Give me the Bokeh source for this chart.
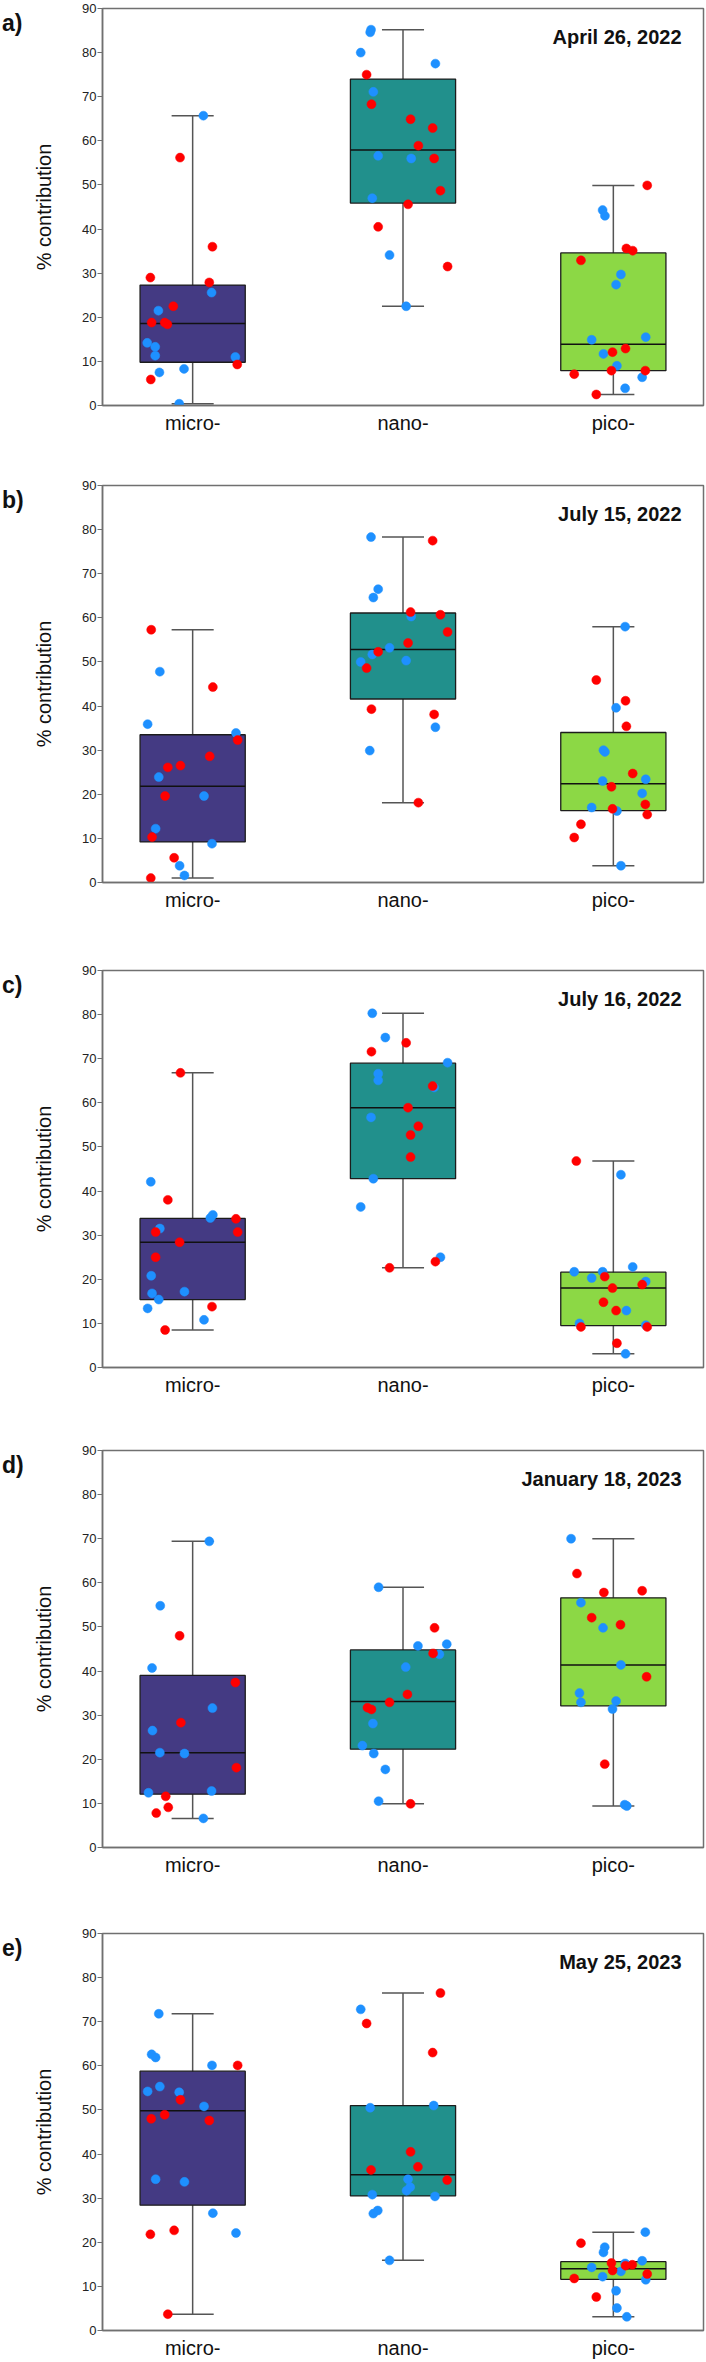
from bokeh.plotting import figure
from bokeh.models import Range1d, FixedTicker, Label, Div
from bokeh.layouts import column, row
from bokeh.embed import file_html
from bokeh.resources import INLINE

# ---------------------------------------------------------------------------
# Data
# ---------------------------------------------------------------------------
CATEGORIES = ["micro-", "nano-", "pico-"]
CAT_X = [1, 2, 3]
PANEL_TAGS = ["a)", "b)", "c)", "d)", "e)"]
DATES = ["April 26, 2022", "July 15, 2022", "July 16, 2022",
         "January 18, 2023", "May 25, 2023"]
Y_TICKS = [0, 10, 20, 30, 40, 50, 60, 70, 80, 90]

# Box quartiles per sampling date, ordered micro-, nano-, pico-
Q1_A = [9.8, 45.9, 7.9]
MED_A = [18.6, 57.9, 13.9]
Q3_A = [27.3, 74.0, 34.6]

Q1_B = [9.2, 41.6, 16.3]
MED_B = [21.8, 52.8, 22.4]
Q3_B = [33.5, 61.1, 34.0]

Q1_C = [15.4, 42.8, 9.5]
MED_C = [28.4, 58.9, 18.0]
Q3_C = [33.8, 69.0, 21.6]

Q1_D = [12.1, 22.3, 32.1]
MED_D = [21.5, 33.1, 41.4]
Q3_D = [39.0, 44.8, 56.6]

Q1_E = [28.4, 30.5, 11.6]
MED_E = [49.8, 35.3, 14.0]
Q3_E = [58.8, 51.0, 15.6]

# Individual samples (% contribution) and their horizontal jitter
# --- April 26, 2022
A_MICRO_RED = [56.2, 36.0, 29.0, 27.9, 22.5, 18.8, 18.8, 18.4, 9.3, 5.9]
A_MICRO_RED_JIT = [-0.060, 0.094, -0.201, 0.079, -0.092, -0.195, -0.133, -0.120, 0.212, -0.199]
A_MICRO_BLUE = [65.7, 25.6, 21.5, 14.2, 13.3, 11.3, 11.0, 8.3, 7.5, 0.4]
A_MICRO_BLUE_JIT = [0.051, 0.090, -0.163, -0.216, -0.178, -0.178, 0.203, -0.041, -0.158, -0.064]
A_NANO_RED = [75.0, 68.3, 64.9, 62.9, 58.9, 56.0, 48.7, 45.6, 40.5, 31.5]
A_NANO_RED_JIT = [-0.173, -0.150, 0.036, 0.141, 0.073, 0.148, 0.178, 0.024, -0.118, 0.212]
A_NANO_BLUE = [85.2, 84.6, 80.0, 77.5, 71.1, 56.6, 56.0, 47.0, 34.1, 22.5]
A_NANO_BLUE_JIT = [-0.152, -0.156, -0.201, 0.154, -0.141, -0.118, 0.039, -0.146, -0.064, 0.015]
A_PICO_RED = [49.9, 35.6, 35.1, 32.9, 12.9, 12.1, 7.9, 7.9, 7.1, 2.5]
A_PICO_RED_JIT = [0.161, 0.062, 0.092, -0.154, 0.058, -0.004, -0.009, 0.152, -0.186, -0.081]
A_PICO_BLUE = [44.3, 43.0, 29.7, 27.4, 15.5, 14.9, 11.7, 9.0, 6.4, 3.9]
A_PICO_BLUE_JIT = [-0.051, -0.040, 0.036, 0.013, 0.154, -0.103, -0.047, 0.017, 0.137, 0.056]

# --- July 15, 2022
B_MICRO_RED = [57.3, 44.3, 32.3, 28.6, 26.5, 26.1, 19.6, 10.3, 5.6, 1.0]
B_MICRO_RED_JIT = [-0.197, 0.096, 0.214, 0.081, -0.058, -0.118, -0.131, -0.193, -0.088, -0.199]
B_MICRO_BLUE = [47.8, 35.9, 33.9, 23.9, 19.6, 12.2, 8.8, 3.8, 1.6]
B_MICRO_BLUE_JIT = [-0.156, -0.214, 0.206, -0.161, 0.054, -0.176, 0.092, -0.062, -0.039]
B_NANO_RED = [77.5, 61.3, 60.7, 56.8, 54.3, 52.3, 48.6, 39.3, 38.1, 18.1]
B_NANO_RED_JIT = [0.141, 0.036, 0.178, 0.212, 0.024, -0.118, -0.173, -0.150, 0.148, 0.073]
B_NANO_BLUE = [78.3, 66.5, 64.6, 60.3, 53.2, 51.7, 50.0, 50.3, 35.2, 29.9]
B_NANO_BLUE_JIT = [-0.152, -0.118, -0.141, 0.039, -0.064, -0.146, -0.201, 0.015, 0.154, -0.158]
B_PICO_RED = [45.9, 41.2, 35.4, 24.7, 21.7, 17.7, 16.7, 15.4, 13.2, 10.2]
B_PICO_RED_JIT = [-0.081, 0.058, 0.062, 0.092, -0.009, 0.152, -0.004, 0.161, -0.154, -0.186]
B_PICO_BLUE = [58.0, 39.6, 30.0, 29.6, 23.4, 23.0, 20.2, 17.0, 16.2, 3.8]
B_PICO_BLUE_JIT = [0.056, 0.013, -0.047, -0.040, 0.154, -0.051, 0.137, -0.103, 0.017, 0.036]

# --- July 16, 2022
C_MICRO_RED = [66.8, 38.0, 33.7, 30.7, 30.7, 28.4, 25.0, 13.8, 8.5]
C_MICRO_RED_JIT = [-0.058, -0.118, 0.206, 0.214, -0.176, -0.062, -0.176, 0.092, -0.131]
C_MICRO_BLUE = [42.1, 34.6, 33.9, 31.5, 20.8, 16.8, 17.2, 15.4, 13.4, 10.8]
C_MICRO_BLUE_JIT = [-0.199, 0.096, 0.084, -0.156, -0.197, -0.193, -0.039, -0.161, -0.214, 0.054]
C_NANO_RED = [73.6, 71.6, 63.8, 58.9, 54.7, 52.7, 47.7, 24.0, 22.6]
C_NANO_RED_JIT = [0.015, -0.150, 0.141, 0.024, 0.073, 0.036, 0.036, 0.154, -0.064]
C_NANO_BLUE = [80.3, 74.8, 69.1, 66.6, 65.1, 63.5, 56.7, 42.8, 36.4, 25.0]
C_NANO_BLUE_JIT = [-0.146, -0.084, 0.212, -0.118, -0.118, 0.148, -0.152, -0.141, -0.201, 0.178]
C_PICO_RED = [46.8, 20.6, 18.8, 18.0, 14.8, 12.9, 9.2, 9.2, 5.5]
C_PICO_RED_JIT = [-0.176, -0.041, 0.137, -0.004, -0.047, 0.013, -0.154, 0.161, 0.017]
C_PICO_BLUE = [43.7, 22.8, 21.7, 21.7, 20.3, 19.5, 12.9, 10.0, 9.6, 3.1]
C_PICO_BLUE_JIT = [0.036, 0.092, -0.186, -0.051, -0.103, 0.154, 0.062, -0.161, 0.154, 0.058]

# --- January 18, 2023
D_MICRO_RED = [48.0, 37.4, 28.3, 18.1, 11.6, 9.1, 7.8]
D_MICRO_RED_JIT = [-0.062, 0.203, -0.056, 0.208, -0.128, -0.116, -0.173]
D_MICRO_BLUE = [69.4, 54.8, 40.7, 31.6, 26.5, 21.5, 21.3, 12.8, 12.4, 6.6]
D_MICRO_BLUE_JIT = [0.079, -0.154, -0.193, 0.094, -0.191, -0.156, -0.039, 0.090, -0.210, 0.051]
D_NANO_RED = [49.8, 44.0, 34.7, 32.9, 31.7, 31.3, 9.9]
D_NANO_RED_JIT = [0.150, 0.143, 0.021, -0.064, -0.169, -0.150, 0.036]
D_NANO_BLUE = [59.0, 46.1, 45.7, 43.8, 40.9, 28.1, 23.1, 21.3, 17.7, 10.5]
D_NANO_BLUE_JIT = [-0.116, 0.208, 0.071, 0.173, 0.013, -0.143, -0.193, -0.139, -0.084, -0.116]
D_PICO_RED = [62.1, 58.2, 57.8, 52.1, 50.5, 38.7, 18.9]
D_PICO_RED_JIT = [-0.173, 0.137, -0.045, -0.103, 0.034, 0.158, -0.041]
D_PICO_BLUE = [70.0, 55.5, 49.8, 41.4, 35.0, 33.2, 32.9, 31.4, 9.7, 9.4]
D_PICO_BLUE_JIT = [-0.201, -0.154, -0.049, 0.036, -0.161, 0.013, -0.154, -0.004, 0.054, 0.064]

# --- May 25, 2023
E_MICRO_RED = [60.1, 52.3, 48.9, 48.0, 47.6, 22.7, 21.8, 3.7]
E_MICRO_RED_JIT = [0.214, -0.058, -0.133, -0.197, 0.079, -0.088, -0.201, -0.118]
E_MICRO_BLUE = [71.8, 62.6, 61.9, 60.1, 55.3, 54.2, 54.0, 50.8, 34.3, 33.7, 26.6, 22.1]
E_MICRO_BLUE_JIT = [-0.161, -0.195, -0.176, 0.092, -0.156, -0.214, -0.064, 0.054, -0.176, -0.039, 0.096, 0.206]
E_NANO_RED = [76.5, 69.6, 63.0, 40.5, 37.1, 36.4, 34.1]
E_NANO_RED_JIT = [0.178, -0.173, 0.141, 0.036, 0.071, -0.152, 0.210]
E_NANO_BLUE = [72.8, 51.0, 50.5, 34.3, 32.5, 31.7, 30.8, 30.4, 27.2, 26.5, 15.9]
E_NANO_BLUE_JIT = [-0.201, 0.146, -0.156, 0.024, 0.034, 0.017, -0.146, 0.152, -0.120, -0.141, -0.064]
E_PICO_RED = [19.8, 15.3, 14.9, 14.7, 13.6, 12.8, 11.8, 7.6]
E_PICO_RED_JIT = [-0.154, -0.009, 0.090, 0.058, -0.004, 0.161, -0.186, -0.081]
E_PICO_BLUE = [22.3, 18.9, 17.7, 15.8, 15.2, 14.3, 13.4, 12.2, 11.5, 9.0, 5.1, 3.1]
E_PICO_BLUE_JIT = [0.152, -0.041, -0.047, 0.137, 0.056, -0.103, 0.036, -0.051, 0.154, 0.013, 0.017, 0.064]

# ---------------------------------------------------------------------------
# Styling
# ---------------------------------------------------------------------------
BOX_COLORS = ["#443A83", "#21908C", "#8CD845"]
RED = "#FF0000"
BLUE = "#1E90FF"
FRAME_GRAY = "#707070"
WHISKER_GRAY = "#555555"
FONT = "Liberation Sans"

BOX_WIDTH = 0.5
CAP_HALF = 0.1
FRAME_H = 397
FRAME_W = 601
TAG_W = 28          # column holding the panel letter
LEFT = 102 - TAG_W  # remaining room for the y axis
RIGHT = 3


def make_panel(date, q1, med, q3, groups, top_border, bottom_border):
    p = figure(width=LEFT + FRAME_W + RIGHT,
               height=top_border + FRAME_H + bottom_border,
               x_range=Range1d(0.5714, 3.4286), y_range=Range1d(0, 90),
               output_backend="svg", toolbar_location=None,
               min_border_left=LEFT, min_border_right=RIGHT,
               min_border_top=top_border, min_border_bottom=bottom_border,
               background_fill_color="white", border_fill_color="white")
    p.outline_line_color = FRAME_GRAY
    p.outline_line_width = 1.5
    p.xgrid.visible = False
    p.ygrid.visible = False

    # whiskers span each group's full range of samples
    lows, highs = [], []
    for red_v, _, blue_v, _ in groups:
        allv = list(red_v) + list(blue_v)
        lows.append(min(allv))
        highs.append(max(allv))

    p.segment(x0=CAT_X, y0=lows, x1=CAT_X, y1=highs,
              line_color=WHISKER_GRAY, line_width=1.5)
    p.segment(x0=[x - CAP_HALF for x in CAT_X], y0=highs,
              x1=[x + CAP_HALF for x in CAT_X], y1=highs,
              line_color=WHISKER_GRAY, line_width=1.5)
    p.segment(x0=[x - CAP_HALF for x in CAT_X], y0=lows,
              x1=[x + CAP_HALF for x in CAT_X], y1=lows,
              line_color=WHISKER_GRAY, line_width=1.5)

    p.vbar(x=CAT_X, width=BOX_WIDTH, bottom=q1, top=q3,
           fill_color=BOX_COLORS, line_color="#1c1c1c", line_width=1.3)
    p.segment(x0=[x - BOX_WIDTH / 2 for x in CAT_X], y0=med,
              x1=[x + BOX_WIDTH / 2 for x in CAT_X], y1=med,
              line_color="#111111", line_width=1.5)

    for cx, (red_v, red_j, blue_v, blue_j) in zip(CAT_X, groups):
        p.scatter(x=[cx + j for j in blue_j], y=blue_v, size=9,
                  fill_color=BLUE, line_color=BLUE, line_width=0.5)
    for cx, (red_v, red_j, blue_v, blue_j) in zip(CAT_X, groups):
        p.scatter(x=[cx + j for j in red_j], y=red_v, size=9,
                  fill_color=RED, line_color=RED, line_width=0.5)

    # axes
    p.yaxis.ticker = FixedTicker(ticks=Y_TICKS)
    p.yaxis.minor_tick_line_color = None
    p.yaxis.major_tick_out = 5
    p.yaxis.major_tick_in = 0
    p.yaxis.major_tick_line_color = FRAME_GRAY
    p.yaxis.major_tick_line_width = 1.2
    p.yaxis.axis_line_color = FRAME_GRAY
    p.yaxis.axis_line_width = 1.5
    p.yaxis.major_label_standoff = 1
    p.yaxis.major_label_text_font = FONT
    p.yaxis.major_label_text_font_size = "13px"
    p.yaxis.major_label_text_color = "#222222"
    p.yaxis.axis_label = "% contribution"
    p.yaxis.axis_label_text_font = FONT
    p.yaxis.axis_label_text_font_size = "20px"
    p.yaxis.axis_label_text_font_style = "normal"
    p.yaxis.axis_label_text_color = "#111111"
    p.yaxis.axis_label_standoff = 24

    p.xaxis.ticker = FixedTicker(ticks=CAT_X)
    p.xaxis.major_label_overrides = {x: c for x, c in zip(CAT_X, CATEGORIES)}
    p.xaxis.minor_tick_line_color = None
    p.xaxis.major_tick_line_color = None
    p.xaxis.major_tick_out = 0
    p.xaxis.major_tick_in = 0
    p.xaxis.axis_line_color = FRAME_GRAY
    p.xaxis.axis_line_width = 1.5
    p.xaxis.major_label_standoff = 6
    p.xaxis.major_label_text_font = FONT
    p.xaxis.major_label_text_font_size = "20px"
    p.xaxis.major_label_text_color = "#111111"

    # sampling date in the upper right corner of the frame
    p.add_layout(Label(x=FRAME_W - 22, y=FRAME_H - 28, x_units="screen", y_units="screen",
                       text=date, text_font=FONT, text_font_size="20px",
                       text_font_style="bold", text_color="#111111",
                       text_baseline="alphabetic", text_align="right"))
    return p


def make_tag(tag, height, top_border):
    pad = top_border + 4
    html = ('<div style="font-family: \'Liberation Sans\', Arial, sans-serif; '
            'font-weight: bold; font-size: 23px; line-height: 1; color: #111111; '
            f'padding-top: {pad}px; padding-left: 2px;">{tag}</div>')
    return Div(text=html, width=TAG_W, height=height, margin=(0, 0, 0, 0))


PANELS = [
    (Q1_A, MED_A, Q3_A, [(A_MICRO_RED, A_MICRO_RED_JIT, A_MICRO_BLUE, A_MICRO_BLUE_JIT),
                         (A_NANO_RED, A_NANO_RED_JIT, A_NANO_BLUE, A_NANO_BLUE_JIT),
                         (A_PICO_RED, A_PICO_RED_JIT, A_PICO_BLUE, A_PICO_BLUE_JIT)]),
    (Q1_B, MED_B, Q3_B, [(B_MICRO_RED, B_MICRO_RED_JIT, B_MICRO_BLUE, B_MICRO_BLUE_JIT),
                         (B_NANO_RED, B_NANO_RED_JIT, B_NANO_BLUE, B_NANO_BLUE_JIT),
                         (B_PICO_RED, B_PICO_RED_JIT, B_PICO_BLUE, B_PICO_BLUE_JIT)]),
    (Q1_C, MED_C, Q3_C, [(C_MICRO_RED, C_MICRO_RED_JIT, C_MICRO_BLUE, C_MICRO_BLUE_JIT),
                         (C_NANO_RED, C_NANO_RED_JIT, C_NANO_BLUE, C_NANO_BLUE_JIT),
                         (C_PICO_RED, C_PICO_RED_JIT, C_PICO_BLUE, C_PICO_BLUE_JIT)]),
    (Q1_D, MED_D, Q3_D, [(D_MICRO_RED, D_MICRO_RED_JIT, D_MICRO_BLUE, D_MICRO_BLUE_JIT),
                         (D_NANO_RED, D_NANO_RED_JIT, D_NANO_BLUE, D_NANO_BLUE_JIT),
                         (D_PICO_RED, D_PICO_RED_JIT, D_PICO_BLUE, D_PICO_BLUE_JIT)]),
    (Q1_E, MED_E, Q3_E, [(E_MICRO_RED, E_MICRO_RED_JIT, E_MICRO_BLUE, E_MICRO_BLUE_JIT),
                         (E_NANO_RED, E_NANO_RED_JIT, E_NANO_BLUE, E_NANO_BLUE_JIT),
                         (E_PICO_RED, E_PICO_RED_JIT, E_PICO_BLUE, E_PICO_BLUE_JIT)]),
]

# vertical spacing of the stacked panels (top border, bottom border)
BORDERS = [(8, 70), (10, 78), (10, 73), (10, 76), (10, 32)]

rows = []
for tag, date, (q1, med, q3, groups), (tb, bb) in zip(PANEL_TAGS, DATES, PANELS, BORDERS):
    fig = make_panel(date, q1, med, q3, groups, tb, bb)
    rows.append(row(make_tag(tag, tb + FRAME_H + bb, tb), fig, spacing=0))

layout = column(*rows, spacing=0)
open("out.html", "w").write(file_html(layout, INLINE))
